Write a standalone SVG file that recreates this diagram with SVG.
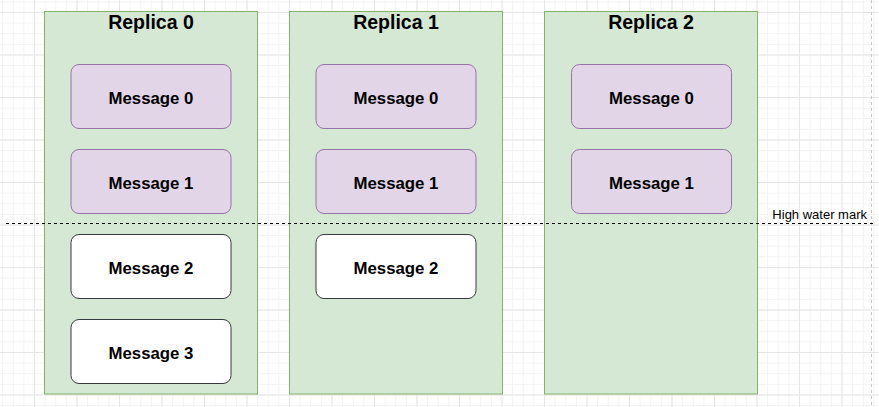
<svg xmlns="http://www.w3.org/2000/svg" width="879" height="407" viewBox="0 0 879 407">
  <defs>
    <pattern id="minor" x="-8.5" y="1.375" width="10.625" height="10.625" patternUnits="userSpaceOnUse">
      <path d="M0 0.5 H10.625 M0.5 0 V10.625" stroke="#f3f3f3" stroke-width="1" fill="none"/>
    </pattern>
    <pattern id="major" x="-8.5" y="-30.5" width="42.5" height="42.5" patternUnits="userSpaceOnUse">
      <path d="M0 0.5 H42.5 M0.5 0 V42.5" stroke="#e6e6e6" stroke-width="1" fill="none"/>
    </pattern>
  </defs>
  <style>
    .replica { fill: #d5e8d4; stroke: #82b366; stroke-width: 1; }
    .title { font-family: "Liberation Sans", Arial, sans-serif; font-size: 19.5px; font-weight: bold; fill: #000; text-anchor: middle; }
    .msg-committed { fill: #e1d5e7; stroke: #9673a6; stroke-width: 1; }
    .msg-pending { fill: #ffffff; stroke: #36393d; stroke-width: 1; }
    .label { font-family: "Liberation Sans", Arial, sans-serif; font-size: 16.8px; font-weight: bold; fill: #000; text-anchor: middle; }
    .hwm { stroke: #000; stroke-width: 1; stroke-dasharray: 3 3; fill: none; }
    .hwm-text { font-family: "Liberation Sans", Arial, sans-serif; font-size: 13px; fill: #000; text-anchor: end; }
  </style>
  <rect width="879" height="407" fill="#ffffff"/>
  <rect width="879" height="407" fill="url(#minor)"/>
  <rect width="879" height="407" fill="url(#major)"/>
  <line x1="871.5" y1="0" x2="871.5" y2="407" stroke="#c8c8c8" stroke-width="1" stroke-dasharray="3 3"/>

  <g id="replica0">
    <rect class="replica" x="44.5" y="11.5" width="213" height="382.5"/>
    <text class="title" x="151" y="28.8">Replica 0</text>
  </g>
  <g id="replica1">
    <rect class="replica" x="289.5" y="11.5" width="213" height="382.5"/>
    <text class="title" x="396" y="28.8">Replica 1</text>
  </g>
  <g id="replica2">
    <rect class="replica" x="544.5" y="11.5" width="213" height="382.5"/>
    <text class="title" x="651" y="28.8">Replica 2</text>
  </g>

  <g id="r0m0"><rect class="msg-committed" x="71" y="64.5" width="160" height="64" rx="8"/><text class="label" x="151" y="103.5">Message 0</text></g>
  <g id="r0m1"><rect class="msg-committed" x="71" y="149.5" width="160" height="64" rx="8"/><text class="label" x="151" y="188.5">Message 1</text></g>
  <g id="r0m2"><rect class="msg-pending" x="71" y="234.5" width="160" height="64" rx="8"/><text class="label" x="151" y="273.5">Message 2</text></g>
  <g id="r0m3"><rect class="msg-pending" x="71" y="319.5" width="160" height="64" rx="8"/><text class="label" x="151" y="358.5">Message 3</text></g>

  <g id="r1m0"><rect class="msg-committed" x="316" y="64.5" width="160" height="64" rx="8"/><text class="label" x="396" y="103.5">Message 0</text></g>
  <g id="r1m1"><rect class="msg-committed" x="316" y="149.5" width="160" height="64" rx="8"/><text class="label" x="396" y="188.5">Message 1</text></g>
  <g id="r1m2"><rect class="msg-pending" x="316" y="234.5" width="160" height="64" rx="8"/><text class="label" x="396" y="273.5">Message 2</text></g>

  <g id="r2m0"><rect class="msg-committed" x="571.5" y="64.5" width="160" height="64" rx="8"/><text class="label" x="651.5" y="103.5">Message 0</text></g>
  <g id="r2m1"><rect class="msg-committed" x="571.5" y="149.5" width="160" height="64" rx="8"/><text class="label" x="651.5" y="188.5">Message 1</text></g>

  <g id="connectors">
    <line class="hwm" x1="6" y1="223.5" x2="876" y2="223.5"/>
  </g>
  <g id="high-water-mark-label">
    <text class="hwm-text" x="867" y="219">High water mark</text>
  </g>
</svg>
